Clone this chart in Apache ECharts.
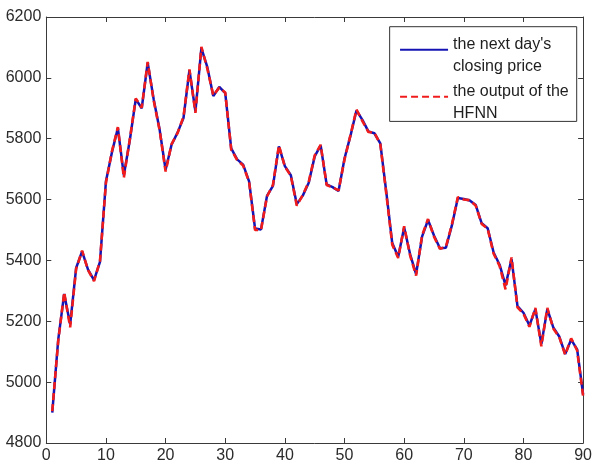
<!DOCTYPE html>
<html>
<head>
<meta charset="utf-8">
<script src="https://cdn.jsdelivr.net/npm/echarts@6/dist/echarts.min.js"></script>
<style>
  html, body { margin: 0; padding: 0; background: #fff; }
  #chart { width: 595px; height: 464px; }
</style>
</head>
<body>
<div id="chart"></div>
<script>
// Trading days 1..90
const days = [];
for (let d = 1; d <= 90; d++) days.push(d);

// Actual closing price of the next day
const closingPrice = [
  4900, 5140, 5290, 5190, 5375, 5430, 5370, 5335, 5395, 5660,
  5755, 5835, 5680, 5795, 5930, 5900, 6050, 5930, 5830, 5698,
  5780, 5820, 5868, 6025, 5890, 6098, 6035, 5940, 5970, 5950,
  5768, 5732, 5715, 5660, 5505, 5502, 5612, 5645, 5775, 5710,
  5680, 5585, 5613, 5655, 5742, 5778, 5650, 5641, 5628, 5735,
  5810, 5893, 5862, 5824, 5818, 5785, 5625, 5457, 5412, 5508,
  5420, 5355, 5478, 5533, 5482, 5440, 5442, 5515, 5605, 5602,
  5597, 5582, 5522, 5506, 5426, 5386, 5318, 5405, 5250, 5228,
  5186, 5240, 5125, 5240, 5180, 5150, 5092, 5140, 5108, 4960
];

// Network prediction (HFNN output)
const hfnnOutput = [
  4905, 5135, 5295, 5180, 5372, 5432, 5368, 5332, 5398, 5655,
  5758, 5838, 5672, 5798, 5932, 5902, 6052, 5926, 5828, 5692,
  5782, 5818, 5872, 6028, 5885, 6102, 6030, 5942, 5968, 5952,
  5764, 5730, 5712, 5658, 5500, 5500, 5610, 5648, 5778, 5708,
  5678, 5580, 5615, 5658, 5745, 5780, 5648, 5640, 5630, 5732,
  5812, 5896, 5858, 5822, 5820, 5782, 5620, 5452, 5408, 5512,
  5416, 5350, 5482, 5536, 5478, 5438, 5445, 5518, 5608, 5600,
  5598, 5580, 5520, 5504, 5422, 5382, 5305, 5410, 5246, 5225,
  5182, 5244, 5118, 5244, 5176, 5148, 5090, 5144, 5104, 4955
];

const seriesNames = ["the next day's closing price", "the output of the HFNN"];
const legendLines = {
  "the next day's closing price": ["the next day's", "closing price"],
  "the output of the HFNN": ["the output of the", "HFNN"]
};

const xTicks = { min: 0, max: 90, step: 10 };
const yTicks = { min: 4800, max: 6200, step: 200 };

const axisColor = '#3a3a3a';
const fontFamily = 'Liberation Sans, Arial, sans-serif';
const labelFont = { color: '#2b2b2b', fontSize: 16, fontFamily: fontFamily };

function pairs(values) {
  return values.map((v, i) => [days[i], v]);
}

const chart = echarts.init(document.getElementById('chart'), null, { renderer: 'canvas' });

// Axis with inward ticks; used on all four sides to close the plot box
function boxAxis(base, position, showLabels, labelMargin) {
  return Object.assign({
    type: 'value',
    position: position,
    axisLine: { show: true, onZero: false, lineStyle: { color: axisColor, width: 1 } },
    axisTick: { show: true, inside: true, length: 5, lineStyle: { color: axisColor, width: 1 } },
    splitLine: { show: false },
    axisLabel: showLabels
      ? Object.assign({
          margin: labelMargin,
          showMinLabel: true,
          showMaxLabel: true,
          formatter: function (v) { return String(v); }
        }, labelFont)
      : { show: false }
  }, base);
}

chart.setOption({
  animation: false,
  backgroundColor: '#ffffff',
  grid: { left: 46.3, right: 5.5, top: 17, bottom: 20.7, containLabel: false },
  xAxis: [
    boxAxis({ min: xTicks.min, max: xTicks.max, interval: xTicks.step }, 'bottom', true, 5),
    boxAxis({ min: xTicks.min, max: xTicks.max, interval: xTicks.step }, 'top', false)
  ],
  yAxis: [
    boxAxis({ min: yTicks.min, max: yTicks.max, interval: yTicks.step }, 'left', true, 5),
    boxAxis({ min: yTicks.min, max: yTicks.max, interval: yTicks.step }, 'right', false)
  ],
  legend: {
    orient: 'vertical',
    right: 18.3,
    top: 26.7,
    data: seriesNames,
    backgroundColor: '#ffffff',
    borderColor: '#333333',
    borderWidth: 1,
    padding: [10, 8, 0, 9.4],
    itemGap: 9.3,
    itemWidth: 48,
    itemHeight: 14,
    selectedMode: false,
    itemStyle: { color: 'rgba(0,0,0,0)', borderWidth: 0, opacity: 0 },
    formatter: function (name) {
      const l = legendLines[name];
      return '{a|' + l[0] + '}\n{b|' + l[1] + '}';
    },
    textStyle: {
      color: '#1e1e1e',
      fontFamily: fontFamily,
      fontSize: 16,
      rich: {
        a: { fontSize: 16, lineHeight: 33.4, color: '#1e1e1e', fontFamily: fontFamily },
        b: { fontSize: 16, lineHeight: 10, color: '#1e1e1e', fontFamily: fontFamily }
      }
    }
  },
  series: [
    {
      name: seriesNames[0],
      type: 'line',
      data: pairs(closingPrice),
      showSymbol: false,
      symbol: 'none',
      lineStyle: { color: '#1414b4', width: 2.5, type: 'solid' },
      itemStyle: { color: '#1414b4' },
      z: 2
    },
    {
      name: seriesNames[1],
      type: 'line',
      data: pairs(hfnnOutput),
      showSymbol: false,
      symbol: 'none',
      lineStyle: { color: '#f01c1c', width: 2.6, type: [7, 4] },
      itemStyle: { color: '#f01c1c' },
      z: 3
    }
  ]
});
</script>
</body>
</html>
